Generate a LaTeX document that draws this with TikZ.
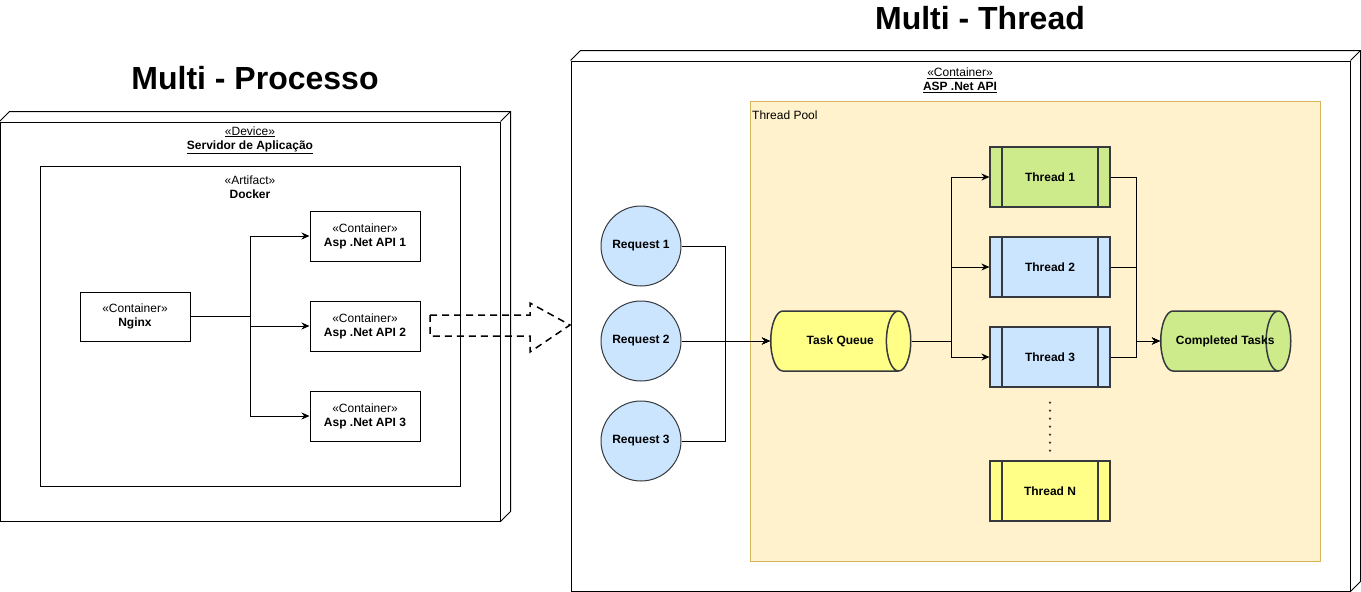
\documentclass[tikz,border=0pt]{standalone}
\usepackage{fontspec}
\setmainfont{Liberation Sans}
\usetikzlibrary{shapes.geometric,arrows.meta,positioning}

\definecolor{poolfill}{HTML}{FFF2CC}
\definecolor{pooldraw}{HTML}{D6B656}
\definecolor{bluefill}{HTML}{CCE5FF}
\definecolor{greenfill}{HTML}{CDEB8B}
\definecolor{yellowfill}{HTML}{FFFF88}
\definecolor{shapedraw}{HTML}{36393D}

\tikzset{
  txt/.style={font=\fontsize{12}{14}\selectfont, align=center, inner sep=0pt},
  title/.style={font=\fontsize{32}{38}\selectfont\bfseries, inner sep=0pt},
  frame/.style={draw, line width=1pt, inner sep=0pt},
  container/.style={draw, line width=1pt, minimum width=110pt, minimum height=50pt,
    font=\fontsize{12}{14}\selectfont, align=center},
  request/.style={circle, draw=shapedraw, fill=bluefill, line width=1pt,
    minimum size=80pt, inner sep=0pt, font=\fontsize{12}{14}\selectfont\bfseries},
  queue/.style={cylinder, draw=shapedraw, line width=1.5pt, shape aspect=2.2,
    cylinder uses custom fill, cylinder body fill=#1, cylinder end fill=#1,
    minimum width=60pt, inner sep=0pt, anchor=west, font=\fontsize{12}{14}\selectfont\bfseries},
  thread/.style={draw=shapedraw, fill=#1, line width=1.2pt, minimum width=120pt,
    minimum height=60pt, font=\fontsize{12}{14}\selectfont\bfseries,
    path picture={\draw[shapedraw, line width=1.2pt]
      ([xshift=12pt]path picture bounding box.north west) -- ([xshift=12pt]path picture bounding box.south west)
      ([xshift=-12pt]path picture bounding box.north east) -- ([xshift=-12pt]path picture bounding box.south east);}},
  arrow/.style={draw, line width=1pt, -{Stealth[length=8pt,width=7pt]}},
}

\begin{document}
\begin{tikzpicture}[x=1pt, y=-1pt]
\useasboundingbox (0,0) rectangle (1361,592);

% Titles
\node[title] (title-proc)   at (255,78) {Multi - Processo};
\node[title] (title-thread) at (980,18) {Multi - Thread};

% Multi - Processo: device
\node[frame, minimum width=500pt, minimum height=399pt] (device) at (250,321.5) {};
\draw[line width=1pt] (device.north west) -- ++(10,-10) -- ([shift={(10,-10)}]device.north east)
  -- ([shift={(10,-10)}]device.south east) -- (device.south east);
\draw[line width=1pt] (device.north east) -- ++(10,-10);
\node[txt] (device-label) at (250,140) {\underline{«Device»}\\\textbf{\underline{Servidor de Aplicação}}};

% Docker artifact
\node[frame, minimum width=420pt, minimum height=320pt] (docker) at (250,326) {};
\node[txt] (docker-label) at (250,187) {«Artifact»\\\textbf{Docker}};

% Containers
\node[container, minimum height=49pt] (nginx) at (135,316.5) {«Container»\\\textbf{Nginx}};
\node[container] (api1) at (365,236) {«Container»\\\textbf{Asp .Net API 1}};
\node[container] (api2) at (365,326) {«Container»\\\textbf{Asp .Net API 2}};
\node[container] (api3) at (365,416) {«Container»\\\textbf{Asp .Net API 3}};

\draw[arrow] (nginx.east) -- ++(60,0) |- (api1.west);
\draw[arrow] (nginx.east) -- ++(60,0) |- (api2.west);
\draw[arrow] (nginx.east) -- ++(60,0) |- (api3.west);

% Dashed arrow between the two sides
\draw[line width=1.5pt, dash pattern=on 7pt off 5pt]
  (430,315) -- (530,315) -- (530,303) -- (570,325) -- (530,352) -- (530,336) -- (430,336) -- cycle;

% Multi - Thread: container
\node[frame, minimum width=779pt, minimum height=530pt] (api) at (960.5,326) {};
\draw[line width=1pt] (api.north west) -- ++(10,-10) -- ([shift={(10,-10)}]api.north east)
  -- ([shift={(10,-10)}]api.south east) -- (api.south east);
\draw[line width=1pt] (api.north east) -- ++(10,-10);
\node[txt] (api-label) at (960,80) {\underline{«Container»}\\\textbf{\underline{ASP .Net API}}};

% Thread pool
\node[draw=pooldraw, fill=poolfill, line width=1pt, minimum width=570pt, minimum height=460pt] (pool) at (1035,331) {};
\node[txt, anchor=base west] (pool-label) at (752,119) {Thread Pool};

% Requests
\node[request] (req1) at (641,246) {Request 1};
\node[request] (req2) at (641,341) {Request 2};
\node[request] (req3) at (641,441) {Request 3};

% Queues
\node[queue=yellowfill, minimum height=140pt] (queue) at (770,341) {\makebox[70pt]{\hspace*{12pt}Task Queue}};
\node[queue=greenfill, minimum height=130pt] (done) at (1160,341) {\makebox[60pt]{\hspace*{12pt}Completed Tasks}};

% Threads
\node[thread=greenfill]  (thread1) at (1050,177) {Thread 1};
\node[thread=bluefill]   (thread2) at (1050,267) {Thread 2};
\node[thread=bluefill]   (thread3) at (1050,357) {Thread 3};
\node[thread=yellowfill] (threadN) at (1050,491) {Thread N};
\draw[shapedraw, line width=2.5pt, line cap=round, dash pattern=on 0pt off 8pt]
  (thread3.south) ++(0,15) -- ++(0,50);

% Connectors
\draw[arrow] (req1.east) -- ++(44,0) |- (queue.west);
\draw[arrow] (req2.east) -- (queue.west);
\draw[arrow] (req3.east) -- ++(44,0) |- (queue.west);

\draw[arrow] (queue.east) -- ++(40,0) |- (thread1.west);
\draw[arrow] (queue.east) -- ++(40,0) |- (thread2.west);
\draw[arrow] (queue.east) -- ++(40,0) |- (thread3.west);

\draw[arrow] (thread1.east) -- ++(26,0) |- (done.west);
\draw[arrow] (thread2.east) -- ++(26,0) |- (done.west);
\draw[arrow] (thread3.east) -- ++(26,0) |- (done.west);

\end{tikzpicture}
\end{document}
